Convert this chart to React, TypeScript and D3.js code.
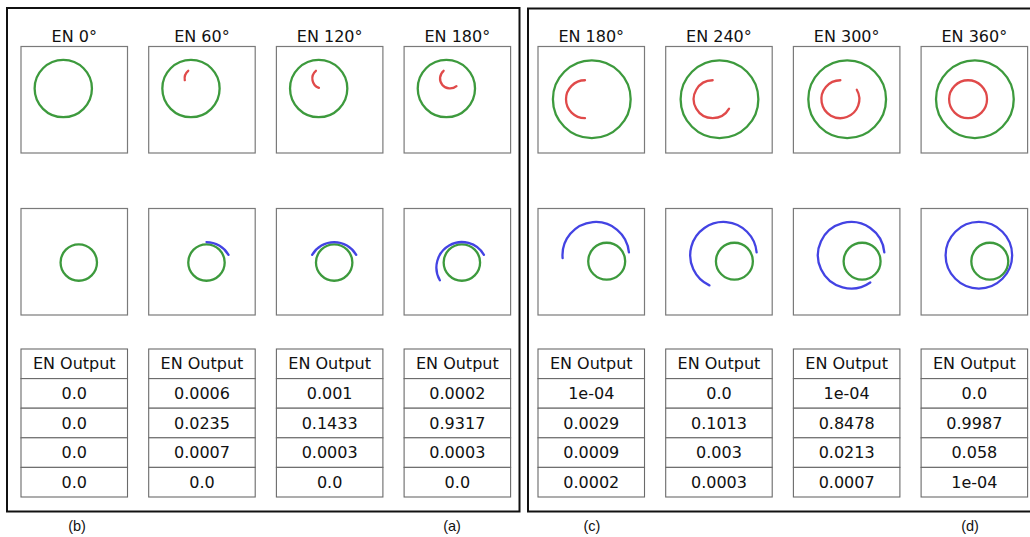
import React from "react";
import * as d3 from "d3";

// ---- data ----
const leftAngles = [0, 60, 120, 180];
const rightAngles = [180, 240, 300, 360];
const tableHeader = "EN Output";
const leftOutputs = [
  ["0.0", "0.0", "0.0", "0.0"],
  ["0.0006", "0.0235", "0.0007", "0.0"],
  ["0.001", "0.1433", "0.0003", "0.0"],
  ["0.0002", "0.9317", "0.0003", "0.0"],
];
const rightOutputs = [
  ["1e-04", "0.0029", "0.0009", "0.0002"],
  ["0.0", "0.1013", "0.003", "0.0003"],
  ["1e-04", "0.8478", "0.0213", "0.0007"],
  ["0.0", "0.9987", "0.058", "1e-04"],
];
const leftLabels = ["(b)", "(a)"];
const rightLabels = ["(c)", "(d)"];

// ---- style / layout ----
const W = 1030;
const H = 537;
const GREEN = "#3d9a3d";
const RED = "#e04a4a";
const BLUE = "#4343e3";
const BOX_STROKE = "#7a7a7a";
const FONT = "'DejaVu Sans', sans-serif";

type Geo = {
  top: { g: [number, number, number]; a: [number, number, number]; start: number };
  mid: { g: [number, number, number]; a: [number, number, number]; start: number };
};

// geometry in box data units (domain [-1,1])
const leftGeo: Geo = {
  top: { g: [-0.206, 0.21, 0.538], a: [-0.137, 0.4, 0.188], start: 130 },
  mid: { g: [0.085, -0.015, 0.342], a: [0.085, -0.109, 0.478], start: 30 },
};
const rightGeo: Geo = {
  top: { g: [0.01, 0.01, 0.73], a: [-0.118, 0.01, 0.356], start: 90 },
  mid: { g: [0.29, 0.01, 0.347], a: [0.085, 0.122, 0.625], start: 5 },
};

const BOX = 106.5;
const TOP_Y = 46.5;
const MID_Y = 208.5;
const TABLE_Y = 349;
const ROW_H = 29.6;

function arcPath(
  sx: d3.ScaleLinear<number, number>,
  sy: d3.ScaleLinear<number, number>,
  c: [number, number, number],
  startDeg: number,
  spanDeg: number
) {
  const p = d3.path();
  const cx = sx(c[0]);
  const cy = sy(c[1]);
  const r = Math.abs(sx(c[2]) - sx(0));
  if (spanDeg >= 360) {
    p.moveTo(cx + r, cy);
    p.arc(cx, cy, r, 0, 2 * Math.PI);
    return p.toString();
  }
  const a0 = (-startDeg * Math.PI) / 180;
  const a1 = (-(startDeg + spanDeg) * Math.PI) / 180;
  p.moveTo(cx + r * Math.cos(a0), cy + r * Math.sin(a0));
  p.arc(cx, cy, r, a0, a1, true);
  return p.toString();
}

function Cell({
  x0,
  y0,
  geo,
  theta,
  arcColor,
}: {
  x0: number;
  y0: number;
  geo: { g: [number, number, number]; a: [number, number, number]; start: number };
  theta: number;
  arcColor: string;
}) {
  const sx = d3.scaleLinear().domain([-1, 1]).range([x0, x0 + BOX]);
  const sy = d3.scaleLinear().domain([-1, 1]).range([y0 + BOX, y0]);
  const gr = Math.abs(sx(geo.g[2]) - sx(0));
  return (
    <g>
      <rect x={x0} y={y0} width={BOX} height={BOX} fill="#fff" stroke={BOX_STROKE} strokeWidth={1.2} />
      <circle cx={sx(geo.g[0])} cy={sy(geo.g[1])} r={gr} fill="none" stroke={GREEN} strokeWidth={2.3} />
      {theta > 0 && (
        <path d={arcPath(sx, sy, geo.a, geo.start, theta)} fill="none" stroke={arcColor} strokeWidth={2.3} strokeLinecap="round" />
      )}
    </g>
  );
}

function Panel({
  angles,
  outputs,
  range,
  geo,
}: {
  angles: number[];
  outputs: string[][];
  range: [number, number];
  geo: Geo;
}) {
  const xb = d3
    .scaleBand<number>()
    .domain(angles.map((_, i) => i))
    .range(range)
    .paddingInner(0.166)
    .paddingOuter(0);
  const rows = [tableHeader, ...outputs[0]];
  const yRow = d3
    .scaleBand<number>()
    .domain(rows.map((_, i) => i))
    .range([TABLE_Y, TABLE_Y + ROW_H * rows.length]);
  return (
    <g>
      {angles.map((ang, i) => {
        const x0 = xb(i)!;
        const w = xb.bandwidth();
        const cells = [tableHeader, ...outputs[i]];
        return (
          <g key={i}>
            <text x={x0 + w / 2} y={41.5} textAnchor="middle" fontFamily={FONT} fontSize={16} fill="#111">
              {`EN ${ang}°`}
            </text>
            <Cell x0={x0} y0={TOP_Y} geo={geo.top} theta={ang} arcColor={RED} />
            <Cell x0={x0} y0={MID_Y} geo={geo.mid} theta={ang} arcColor={BLUE} />
            {cells.map((t, j) => (
              <g key={j}>
                <rect
                  x={x0}
                  y={yRow(j)!}
                  width={w}
                  height={yRow.bandwidth()}
                  fill="#fff"
                  stroke="#6a6a6a"
                  strokeWidth={1.1}
                />
                <text
                  x={x0 + w / 2}
                  y={yRow(j)! + yRow.bandwidth() / 2 + 5.6}
                  textAnchor="middle"
                  fontFamily={FONT}
                  fontSize={16}
                  fill="#111"
                >
                  {t}
                </text>
              </g>
            ))}
          </g>
        );
      })}
    </g>
  );
}

export default function App() {
  return (
    <svg
      width={W}
      height={H}
      viewBox={`0 0 ${W} ${H}`}
      style={{ position: "absolute", left: 0, top: 0, background: "#fff" }}
    >
      <rect x={0} y={0} width={W} height={H} fill="#fff" />
      <rect x={7} y={8} width={512.5} height={503.5} fill="none" stroke="#111" strokeWidth={2} />
      <rect x={528} y={8.5} width={510} height={503} fill="none" stroke="#111" strokeWidth={2} />
      <Panel angles={leftAngles} outputs={leftOutputs} range={[21, 510.6]} geo={leftGeo} />
      <Panel angles={rightAngles} outputs={rightOutputs} range={[538, 1027.6]} geo={rightGeo} />
      {[...leftLabels, ...rightLabels].map((l, i) => (
        <text
          key={l}
          x={[77, 452, 592, 970][i]}
          y={531}
          textAnchor="middle"
          fontFamily="'Liberation Sans', Arial, sans-serif"
          fontSize={14.5}
          fill="#111"
        >
          {l}
        </text>
      ))}
    </svg>
  );
}
